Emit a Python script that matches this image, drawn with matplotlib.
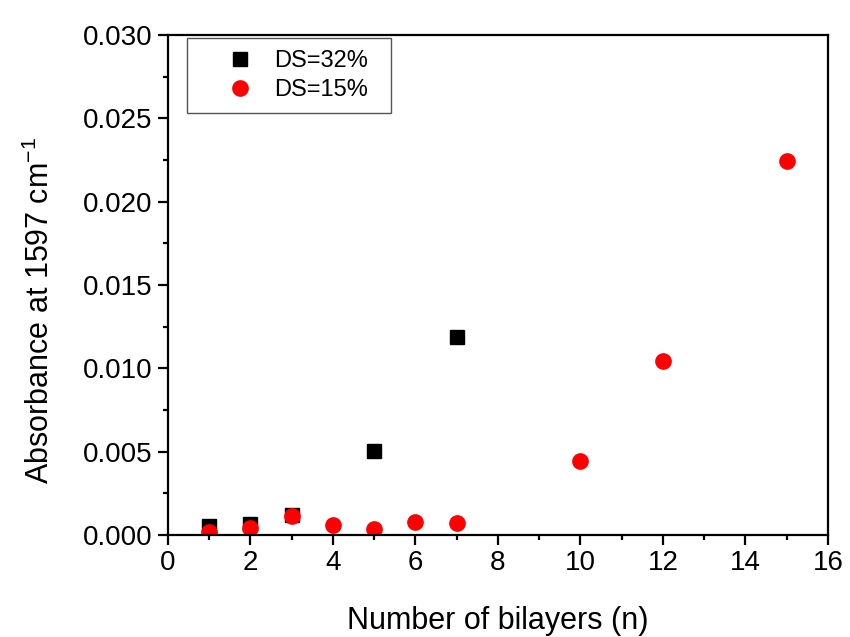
import numpy as np
from matplotlib import pyplot as plt
from matplotlib.patches import Rectangle
from matplotlib.ticker import MultipleLocator, FormatStrFormatter

plt.rcParams['font.family'] = ['Liberation Sans', 'DejaVu Sans']
plt.rcParams['mathtext.fontset'] = 'custom'
plt.rcParams['mathtext.rm'] = 'Liberation Sans'
plt.rcParams['mathtext.default'] = 'regular'

# DS = 32 %
n_32 = [1, 2, 3, 5, 7]
abs_32 = [0.00054, 0.00066, 0.0012, 0.00506, 0.0119]

# DS = 15 %
n_15 = [1, 2, 3, 4, 5, 6, 7, 10, 12, 15]
abs_15 = [0.0002, 0.0004, 0.00114, 0.0006, 0.00034, 0.0008, 0.0007, 0.00446, 0.01044, 0.02244]

W, H = 850, 637
fig = plt.figure(figsize=(W / 100, H / 100), dpi=100)
ax = fig.add_axes([0.1976, 0.160, 0.7765, 0.785])

ax.plot(n_32, abs_32, 's', color='black', markersize=10, label='DS=32%')
ax.plot(n_15, abs_15, 'o', color='red', markersize=11, label='DS=15%')

ax.set_xlim(0, 16)
ax.set_ylim(0, 0.030)
ax.xaxis.set_major_locator(MultipleLocator(2))
ax.xaxis.set_minor_locator(MultipleLocator(1))
ax.yaxis.set_major_locator(MultipleLocator(0.005))
ax.yaxis.set_minor_locator(MultipleLocator(0.0025))
ax.yaxis.set_major_formatter(FormatStrFormatter('%.3f'))

for sp in ax.spines.values():
    sp.set_linewidth(1.6)
ax.tick_params(which='major', direction='out', length=7, width=1.6, labelsize=20, pad=4)
ax.tick_params(which='minor', direction='out', length=3.6, width=1.6)

ax.set_xlabel('Number of bilayers (n)', fontsize=22, labelpad=21)
ax.set_ylabel('Absorbance at 1597 cm$^{-1}$', fontsize=22)
ax.yaxis.set_label_coords(-0.17, 0.45)

# legend without its own frame; the box is drawn separately so the
# padding can be wider on the sides than on top and bottom
leg = ax.legend(loc='upper left', bbox_to_anchor=(210 / W, 1 - 38 / H),
                bbox_transform=fig.transFigure, fontsize=17, frameon=False,
                borderpad=0, handlelength=1.5, handletextpad=0.73,
                labelspacing=0.3)
fig.patches.append(Rectangle((187 / W, 1 - 113 / H), 204 / W, 75 / H,
                             transform=fig.transFigure, fill=False,
                             edgecolor='#555555', linewidth=1.0))

fig.savefig('out.png', dpi=100)
